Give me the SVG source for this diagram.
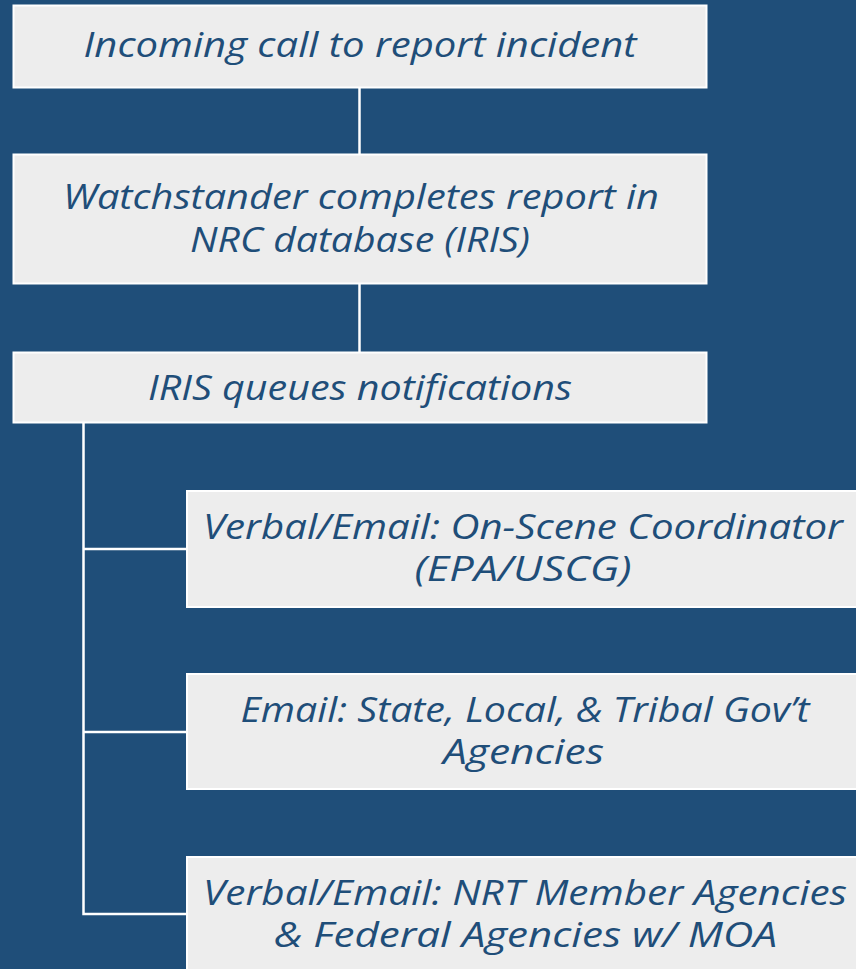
<svg xmlns="http://www.w3.org/2000/svg" width="856" height="969" viewBox="0 0 856 969">
<style>
.box{fill:#EDEDED;stroke:#FFFFFF;stroke-width:2}
.t{font-family:"Open Sans","Noto Sans",sans-serif;font-style:italic;font-size:35px;fill:#1F4E79;text-anchor:middle}
.c{stroke:#FFFFFF;stroke-width:2.5;fill:none}
</style>
<rect x="0" y="0" width="856" height="969" fill="#1F4E79"/>
<g id="connectors">
<line class="c" x1="359.5" y1="88" x2="359.5" y2="154"/>
<line class="c" x1="359.5" y1="284" x2="359.5" y2="352"/>
<polyline class="c" points="83.5,423 83.5,914 187,914"/>
<line class="c" x1="83.5" y1="549" x2="187" y2="549"/>
<line class="c" x1="83.5" y1="732" x2="187" y2="732"/>
</g>
<g id="n1">
<rect class="box" x="13.5" y="5.5" width="693" height="82"/>
<text class="t" x="360" y="57" textLength="553" lengthAdjust="spacingAndGlyphs">Incoming call to report incident</text>
</g>
<g id="n2">
<rect class="box" x="13.5" y="154.5" width="693" height="129"/>
<text class="t" x="361" y="209" textLength="596" lengthAdjust="spacingAndGlyphs">Watchstander completes report in</text>
<text class="t" x="360" y="252" textLength="340" lengthAdjust="spacingAndGlyphs">NRC database (IRIS)</text>
</g>
<g id="n3">
<rect class="box" x="13.5" y="352.5" width="693" height="70"/>
<text class="t" x="360" y="400" textLength="424" lengthAdjust="spacingAndGlyphs">IRIS queues notifications</text>
</g>
<g id="n4">
<rect class="box" x="187" y="491" width="672" height="116"/>
<text class="t" x="523" y="539" textLength="640" lengthAdjust="spacingAndGlyphs">Verbal/Email: On-Scene Coordinator</text>
<text class="t" x="523" y="581" textLength="217" lengthAdjust="spacingAndGlyphs">(EPA/USCG)</text>
</g>
<g id="n5">
<rect class="box" x="187" y="674" width="672" height="115"/>
<text class="t" x="525" y="722" textLength="569" lengthAdjust="spacingAndGlyphs">Email: State, Local, &amp; Tribal Gov’t</text>
<text class="t" x="523.5" y="764" textLength="161" lengthAdjust="spacingAndGlyphs">Agencies</text>
</g>
<g id="n6">
<rect class="box" x="187" y="857" width="672" height="120"/>
<text class="t" x="525" y="905" textLength="644" lengthAdjust="spacingAndGlyphs">Verbal/Email: NRT Member Agencies</text>
<text class="t" x="525.5" y="947" textLength="503" lengthAdjust="spacingAndGlyphs">&amp; Federal Agencies w/ MOA</text>
</g>
</svg>
